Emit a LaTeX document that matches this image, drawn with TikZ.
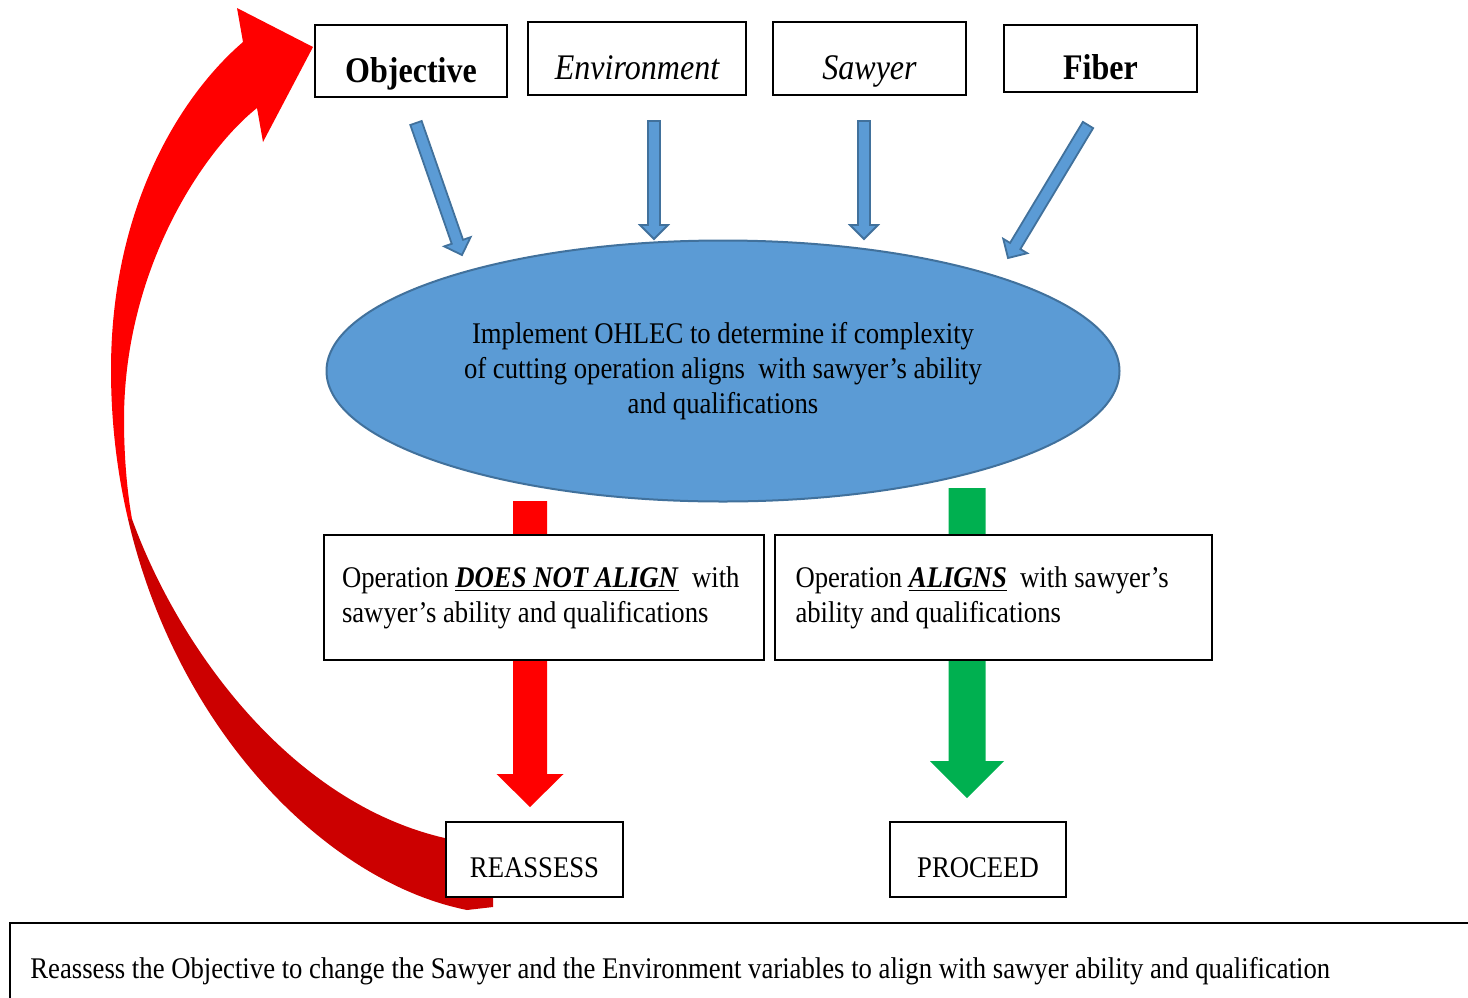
\documentclass[tikz,border=0pt]{standalone}
\usepackage{fontspec}
\setmainfont{Liberation Serif}[FakeStretch=0.89]
\usetikzlibrary{calc,shapes.geometric,backgrounds}

\definecolor{ohblue}{HTML}{5B9BD5}
\definecolor{ohblueline}{HTML}{41719C}
\definecolor{ohred}{HTML}{FF0000}
\definecolor{ohdarkred}{HTML}{CC0000}
\definecolor{ohgreen}{HTML}{00B050}

\newcommand{\ohfont}{\fontsize{15}{17.5}\selectfont}
\newcommand{\varfont}{\fontsize{18}{21}\selectfont}

% block arrow: style, from, to, shaft half width, head half width, head length
\newcommand{\blockarrow}[6]{%
    \path #2 coordinate (ba-s) #3 coordinate (ba-t);
    \path ($(ba-t)!#6!(ba-s)$) coordinate (ba-h);
    \filldraw[#1] ($(ba-s)!#4!90:(ba-t)$) -- ($(ba-h)!#4!90:(ba-t)$)
        -- ($(ba-h)!#5!90:(ba-t)$) -- (ba-t) -- ($(ba-h)!#5!-90:(ba-t)$)
        -- ($(ba-h)!#4!-90:(ba-t)$) -- ($(ba-s)!#4!-90:(ba-t)$) -- cycle;
}

\begin{document}
\begin{tikzpicture}[
    x=0.5pt, y=-0.5pt,
    varbox/.style={
        draw,
        line width=1pt,
        fill=white,
        font=\varfont,
        inner ysep=1pt,
        text height=25pt,
        text depth=4pt
    },
    opbox/.style={
        draw,
        line width=1pt,
        fill=white,
        font=\ohfont,
        align=flush left,
        text width=198pt,
        minimum height=62.5pt
    },
    endbox/.style={
        draw,
        line width=1pt,
        fill=white,
        font=\ohfont,
        minimum width=88.5pt,
        minimum height=37.5pt,
        text height=21pt,
        text depth=3.5pt
    },
    bluearrow/.style={fill=ohblue, draw=ohblueline, line width=0.9pt},
    redarrow/.style={fill=ohred, draw=none},
    greenarrow/.style={fill=ohgreen, draw=none}
]

\useasboundingbox (0,0) rectangle (1468,997);
\clip (0,0) rectangle (1468,997);

% -----------------------------------------------------------------------------
% Variables
% -----------------------------------------------------------------------------
\node[varbox, font=\varfont\bfseries, minimum width=96pt, minimum height=36pt]
    (obj) at (411,61) {Objective};
\node[varbox, font=\varfont\itshape, minimum width=109pt, minimum height=36.5pt]
    (env) at (637,58.5) {Environment};
\node[varbox, font=\varfont\itshape, minimum width=96.5pt, minimum height=36.5pt]
    (saw) at (869.5,58.5) {Sawyer};
\node[varbox, font=\varfont\bfseries, minimum width=96.5pt, minimum height=33.5pt]
    (fib) at (1100.5,58.5) {Fiber};

% -----------------------------------------------------------------------------
% OHLEC
% -----------------------------------------------------------------------------
\node[
    ellipse,
    draw=ohblueline,
    line width=1pt,
    fill=ohblue,
    minimum width=396.5pt,
    minimum height=130.5pt,
    inner sep=0pt,
    align=center,
    font=\ohfont
] (ohlec) at (723,371)
    {Implement OHLEC to determine if complexity\\
     of cutting operation aligns\ \ with sawyer’s ability\\
     and qualifications};

\blockarrow{bluearrow}{($(obj.south)+(5,25)$)}{($(obj.south)+(51,157)$)}{3pt}{7pt}{7pt}
\blockarrow{bluearrow}{($(env.south)+(17,25)$)}{($(env.south)+(17,143)$)}{3pt}{7pt}{7pt}
\blockarrow{bluearrow}{($(saw.south)+(-5.5,25)$)}{($(saw.south)+(-5.5,143)$)}{3pt}{7pt}{7pt}
\blockarrow{bluearrow}{($(fib.south)+(-12.5,32)$)}{($(fib.south)+(-92.5,165)$)}{3pt}{7pt}{7pt}

% -----------------------------------------------------------------------------
% Outcomes
% -----------------------------------------------------------------------------
\node[opbox, text width=202pt, minimum width=220pt] (nalign) at (544,597.5)
    {Operation \underline{\textbf{\textit{DOES NOT ALIGN}}}\ \ with\\
     sawyer’s ability and qualifications};
\node[opbox, minimum width=218.5pt] (palign) at (993.5,597.5)
    {Operation \underline{\textbf{\textit{ALIGNS}}}\ \ with sawyer’s\\
     ability and qualifications};

\node[endbox] (reassess) at (534.5,859.5) {REASSESS};
\node[endbox, minimum width=88pt] (proceed) at (978,859.5) {PROCEED};

\begin{pgfonlayer}{background}
\blockarrow{redarrow}{($(nalign.north)+(-14,-33)$)}{($(reassess.north)+(-4.5,-14)$)}{8.5pt}{16.75pt}{16.5pt}
\blockarrow{greenarrow}{($(palign.north)+(-26.5,-46)$)}{($(proceed.north)+(-11,-23)$)}{9.25pt}{18.5pt}{18.5pt}

% loop back from REASSESS to Objective
\fill[ohdarkred] (467,910) .. controls (327.6,882.1) and (177.5,731.9) .. (128,519)
    -- (132,519) .. controls (183,660) and (313,834) .. (493,845)
    -- (493,907) -- cycle;
\fill[ohred] (128,519) .. controls (117,472) and (111,422) .. (111,370)
    .. controls (111,210) and (178,98) .. (243,42)
    -- (237,8) -- (313,47) -- (263,142) -- (257,108)
    .. controls (202.4,151.4) and (124,270) .. (124,420)
    .. controls (124,453) and (126.6,489) .. (132,519) -- cycle;
\end{pgfonlayer}

% -----------------------------------------------------------------------------
% Note
% -----------------------------------------------------------------------------
\coordinate (notetop) at (10,923);
\draw[line width=1pt] (notetop |- 0,1010) -- (notetop) -- (1480,923);
\node[anchor=base west, inner sep=0pt, font=\ohfont] (note) at (30,978)
    {Reassess the Objective to change the Sawyer and the Environment variables to align with sawyer ability and qualification};

\end{tikzpicture}
\end{document}
